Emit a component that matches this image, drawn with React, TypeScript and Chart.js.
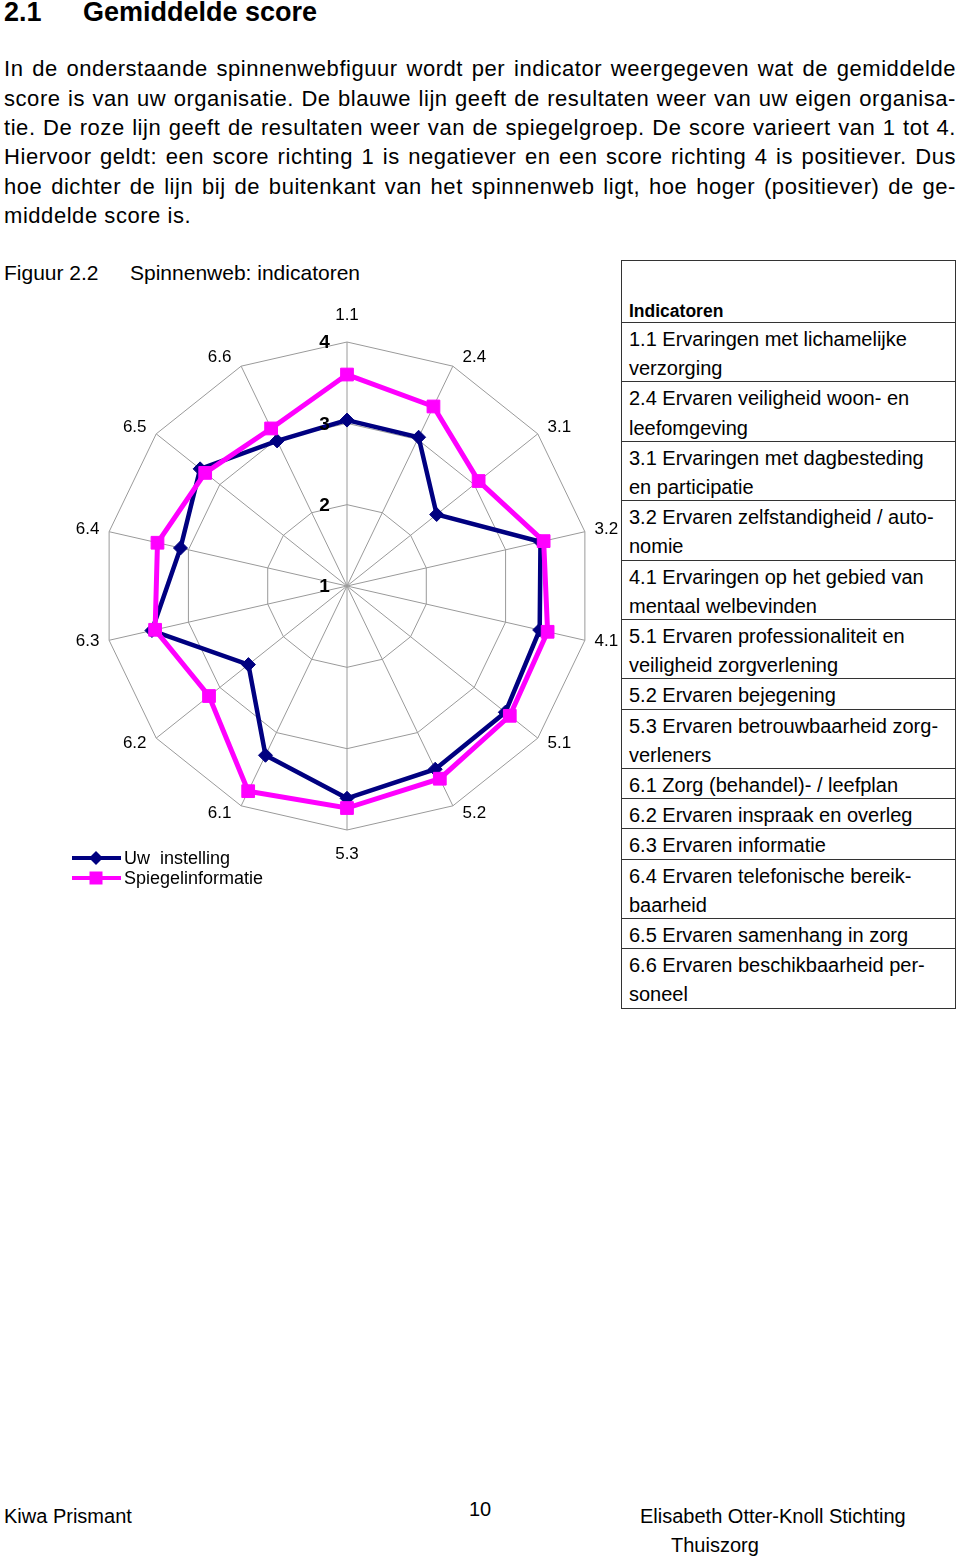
import React, { useEffect, useRef } from "react";
import { Chart, registerables } from "chart.js";

Chart.register(...registerables);

// ---------- data ----------
const indicatorLabels = ["1.1", "2.4", "3.1", "3.2", "4.1", "5.1", "5.2", "5.3", "6.1", "6.2", "6.3", "6.4", "6.5", "6.6"];
const uwInstelling = [3.04, 3.03, 2.41, 3.44, 3.43, 3.49, 3.5, 3.61, 3.31, 2.55, 3.46, 3.1, 3.31, 2.98];
const spiegelinformatie = [3.6, 3.45, 3.07, 3.48, 3.53, 3.56, 3.63, 3.73, 3.8, 3.17, 3.42, 3.39, 3.23, 3.15];
const scaleTicks = [1, 2, 3, 4];
const seriesNames = ["Uw  instelling", "Spiegelinformatie"];
const seriesColors = ["#000080", "#FF00FF"];

const headingNumber = "2.1";
const headingTitle = "Gemiddelde score";
const introLines = [
  "In de onderstaande spinnenwebfiguur wordt per indicator weergegeven wat de gemiddelde",
  "score is van uw organisatie. De blauwe lijn geeft de resultaten weer van uw eigen organisa-",
  "tie. De roze lijn geeft de resultaten weer van de spiegelgroep. De score varieert van 1 tot 4.",
  "Hiervoor geldt: een score richting 1 is negatiever en een score richting 4 is positiever. Dus",
  "hoe dichter de lijn bij de buitenkant van het spinnenweb ligt, hoe hoger (positiever) de ge-",
  "middelde score is.",
];
const figureNumber = "Figuur 2.2";
const figureTitle = "Spinnenweb: indicatoren";
const tableHeader = "Indicatoren";
const tableRows = [
  ["1.1 Ervaringen met lichamelijke", "verzorging"],
  ["2.4 Ervaren veiligheid woon- en", "leefomgeving"],
  ["3.1 Ervaringen met dagbesteding", "en participatie"],
  ["3.2 Ervaren zelfstandigheid / auto-", "nomie"],
  ["4.1 Ervaringen op het gebied van", "mentaal welbevinden"],
  ["5.1 Ervaren professionaliteit en", "veiligheid zorgverlening"],
  ["5.2 Ervaren bejegening"],
  ["5.3 Ervaren betrouwbaarheid zorg-", "verleners"],
  ["6.1 Zorg (behandel)- / leefplan"],
  ["6.2 Ervaren inspraak en overleg"],
  ["6.3 Ervaren informatie"],
  ["6.4 Ervaren telefonische bereik-", "baarheid"],
  ["6.5 Ervaren samenhang in zorg"],
  ["6.6 Ervaren beschikbaarheid per-", "soneel"],
];
const footerLeft = "Kiwa Prismant";
const footerPage = "10";
const footerRight = ["Elisabeth Otter-Knoll Stichting", "Thuiszorg"];

// ---------- layout ----------
const FONT = '"Liberation Sans", Arial, Helvetica, sans-serif';
const CANVAS_LEFT = 0;
const CANVAS_TOP = 280;
const CANVAS_W = 620;
const CANVAS_H = 620;
const LEGEND_X = 72;
const LEGEND_Y = 858;
const LEGEND_ROW = 20;

const decorPlugin = {
  id: "decor",
  afterDatasetsDraw(chart: any) {
    const scale = chart.scales.r;
    const ctx = chart.ctx as CanvasRenderingContext2D;
    const cx = scale.xCenter;
    const cy = scale.yCenter;
    const R = scale.drawingArea;
    ctx.save();
    ctx.fillStyle = "#000";
    ctx.textAlign = "center";
    ctx.textBaseline = "middle";
    // point labels
    ctx.font = `17px ${FONT}`;
    (chart.data.labels as string[]).forEach((lab, i) => {
      const p = scale.getPointPosition(i, R);
      const ux = (p.x - cx) / R;
      const uy = (p.y - cy) / R;
      let ox: number;
      let oy: number;
      if (Math.abs(ux) < 0.02) {
        ox = 0;
        oy = uy < 0 ? -27 : 24;
      } else {
        ox = Math.sign(ux) * 21.5;
        oy = uy * 9 - 0.5;
      }
      ctx.fillText(lab, p.x + ox, p.y + oy);
    });
    // radial tick labels
    ctx.font = `bold 19px ${FONT}`;
    scaleTicks.forEach((v) => {
      const d = scale.getDistanceFromCenterForValue(v);
      ctx.fillText(String(v), cx - 22.5, cy - d + 1);
    });
    // legend
    chart.data.datasets.forEach((ds: any, i: number) => {
      const x0 = LEGEND_X - CANVAS_LEFT;
      const y = LEGEND_Y - CANVAS_TOP + i * LEGEND_ROW;
      ctx.strokeStyle = ds.borderColor;
      ctx.fillStyle = ds.borderColor;
      ctx.lineWidth = 4;
      ctx.beginPath();
      ctx.moveTo(x0, y);
      ctx.lineTo(x0 + 49, y);
      ctx.stroke();
      const mx = x0 + 24;
      ctx.beginPath();
      if (ds.pointStyle === "rectRot") {
        ctx.moveTo(mx - 7, y);
        ctx.lineTo(mx, y - 7);
        ctx.lineTo(mx + 7, y);
        ctx.lineTo(mx, y + 7);
        ctx.closePath();
      } else {
        ctx.rect(mx - 6.5, y - 6.5, 13, 13);
      }
      ctx.fill();
      ctx.fillStyle = "#000";
      ctx.textAlign = "left";
      ctx.font = `18px ${FONT}`;
      ctx.fillText(ds.label, x0 + 52, y + 1);
    });
    ctx.restore();
  },
};

function RadarChart() {
  const ref = useRef<HTMLCanvasElement | null>(null);
  useEffect(() => {
    if (!ref.current) return;
    const chart = new Chart(ref.current, {
      type: "radar",
      data: {
        labels: indicatorLabels,
        datasets: [
          {
            label: seriesNames[0],
            data: uwInstelling,
            borderColor: seriesColors[0],
            backgroundColor: seriesColors[0],
            borderWidth: 4.5,
            pointStyle: "rectRot",
            pointRadius: 7,
            pointBackgroundColor: seriesColors[0],
            pointBorderColor: seriesColors[0],
            pointBorderWidth: 1,
            fill: false,
            order: 2,
          } as any,
          {
            label: seriesNames[1],
            data: spiegelinformatie,
            borderColor: seriesColors[1],
            backgroundColor: seriesColors[1],
            borderWidth: 5,
            pointStyle: "rect",
            pointRadius: 9,
            pointBackgroundColor: seriesColors[1],
            pointBorderColor: seriesColors[1],
            pointBorderWidth: 1,
            fill: false,
            order: 1,
          } as any,
        ],
      },
      options: {
        animation: false,
        responsive: false,
        maintainAspectRatio: false,
        layout: { padding: { left: 103, right: 29, top: 62, bottom: 70 } },
        plugins: { legend: { display: false }, tooltip: { enabled: false } },
        elements: { line: { tension: 0 } },
        scales: {
          r: {
            min: 1,
            max: 4,
            ticks: { display: false, stepSize: 1 },
            pointLabels: { display: false },
            grid: { color: "#9a9a9a", lineWidth: 1 },
            angleLines: { color: "#9a9a9a", lineWidth: 1 },
          },
        },
      },
      plugins: [decorPlugin],
    } as any);
    return () => chart.destroy();
  }, []);
  return (
    <canvas
      ref={ref}
      width={CANVAS_W}
      height={CANVAS_H}
      style={{ position: "absolute", left: CANVAS_LEFT, top: CANVAS_TOP, width: CANVAS_W, height: CANVAS_H }}
    />
  );
}

const abs = (left: number, top: number, size: number, extra: any = {}) => ({
  position: "absolute" as const,
  left,
  top,
  fontSize: size,
  lineHeight: `${size}px`,
  whiteSpace: "nowrap" as const,
  margin: 0,
  ...extra,
});

export default function App() {
  const PARA = 22;
  const lineTop0 = 69.2 - 0.49 * PARA;
  const rowLH = 29.2;
  const HEAD = 27;
  return (
    <div
      style={{
        position: "absolute",
        left: 0,
        top: 0,
        width: 960,
        height: 1558,
        background: "#fff",
        color: "#000",
        fontFamily: FONT,
        overflow: "hidden",
      }}
    >
      <div style={abs(4, 12.5 - 0.49 * HEAD, HEAD, { fontWeight: "bold" })}>{headingNumber}</div>
      <div style={abs(83, 12.5 - 0.49 * HEAD, HEAD, { fontWeight: "bold" })}>{headingTitle}</div>

      {introLines.map((line, i) => (
        <div
          key={i}
          style={{
            position: "absolute",
            left: 4,
            top: lineTop0 + i * 29.3,
            width: 952,
            fontSize: PARA,
            letterSpacing: "0.55px",
            lineHeight: `${PARA}px`,
            textAlign: "justify",
            textAlignLast: i === introLines.length - 1 ? "left" : "justify",
          }}
        >
          {line}
        </div>
      ))}

      <div style={abs(4, 272 - 0.49 * 21, 21)}>{figureNumber}</div>
      <div style={abs(130, 272 - 0.49 * 21, 21)}>{figureTitle}</div>

      <RadarChart />

      <div
        style={{
          position: "absolute",
          left: 621,
          top: 260,
          width: 335,
          boxSizing: "border-box",
          border: "1px solid #333",
          borderBottom: "none",
        }}
      >
        <div style={{ height: 61, position: "relative", borderBottom: "1px solid #333" }}>
          <div style={abs(7, 51 - 0.49 * 17.5, 17.5, { fontWeight: "bold" })}>{tableHeader}</div>
        </div>
        {tableRows.map((row, i) => (
          <div key={i} style={{ borderBottom: "1px solid #333", paddingLeft: 7, fontSize: 20, lineHeight: `${rowLH}px` }}>
            {row.map((l, j) => (
              <div key={j} style={{ position: "relative", top: 2, whiteSpace: "nowrap" }}>
                {l}
              </div>
            ))}
          </div>
        ))}
      </div>

      <div style={abs(4, 1516 - 0.49 * 20, 20)}>{footerLeft}</div>
      <div style={abs(469, 1509 - 0.49 * 20, 20)}>{footerPage}</div>
      <div style={abs(640, 1516 - 0.49 * 20, 20)}>{footerRight[0]}</div>
      <div style={abs(671, 1545 - 0.49 * 20, 20)}>{footerRight[1]}</div>
    </div>
  );
}
